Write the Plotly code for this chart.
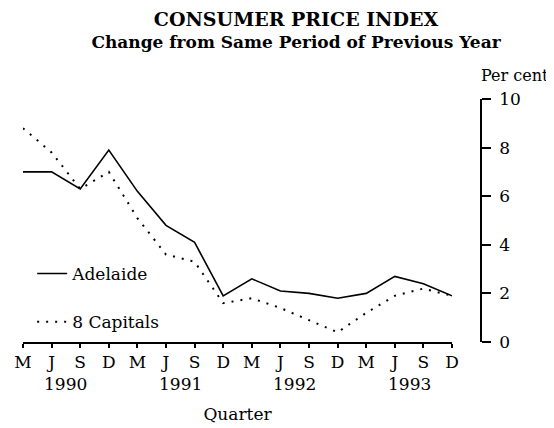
import plotly.graph_objects as go

quarters = ["M", "J", "S", "D"] * 4
years = ["1990", "1991", "1992", "1993"]
adelaide = [7.0, 7.0, 6.3, 7.9, 6.2, 4.8, 4.1, 1.9, 2.6, 2.1, 2.0, 1.8, 2.0, 2.7, 2.4, 1.9]
capitals = [8.8, 7.8, 6.3, 7.0, 5.1, 3.6, 3.3, 1.6, 1.8, 1.4, 0.9, 0.4, 1.2, 1.9, 2.2, 1.9]
y_ticks = [0, 2, 4, 6, 8, 10]

FONT = "DejaVu Serif"
idx = list(range(len(quarters)))

# page body has an 8px default margin, so the figure is sized/positioned to compensate
W, H = 546, 420

fig = go.Figure()
fig.add_trace(go.Scatter(x=idx, y=adelaide, mode="lines", name="Adelaide",
                         legendgroup="a",
                         line=dict(color="black", width=1.6)))
fig.add_trace(go.Scatter(x=idx, y=capitals, mode="lines", name="8 Capitals",
                         legendgroup="b",
                         line=dict(color="black", width=2, dash="2px,7px")))

annotations = []
for i, yr in enumerate(years):
    annotations.append(dict(x=i * 4 + 1.5, y=0, xref="x", yref="paper",
                            text=yr, showarrow=False, yanchor="middle",
                            yshift=-42, font=dict(family=FONT, size=17, color="black")))
annotations.append(dict(x=1.152, y=1.0, xref="paper", yref="paper", text="Per cent",
                        showarrow=False, xanchor="right", yanchor="middle",
                        xshift=0, yshift=24, font=dict(family=FONT, size=16, color="black")))

fig.update_layout(
    width=W, height=H,
    margin=dict(l=15, r=73, t=91, b=86),
    paper_bgcolor="white", plot_bgcolor="white",
    title=dict(text="<b><span style='font-size:19px'>CONSUMER PRICE INDEX</span></b><br>"
                    "<b>Change from Same Period of Previous Year</b>",
               x=288 / W, xref="container", xanchor="center",
               y=1 - 18 / H, yref="container", yanchor="middle",
               font=dict(family=FONT, size=17, color="black")),
    showlegend=True,
    legend=dict(x=0.02, y=0.354, xanchor="left", yanchor="top",
                traceorder="grouped", tracegroupgap=23,
                bgcolor="rgba(0,0,0,0)",
                font=dict(family=FONT, size=17, color="black")),
    xaxis=dict(domain=[0, 0.9367], range=[0, 15], automargin=False,
               tickmode="array", tickvals=idx, ticktext=quarters,
               showline=True, linecolor="black", linewidth=1.5,
               ticks="outside", ticklen=4, tickwidth=1.5, tickcolor="black",
               ticklabelstandoff=0,
               showgrid=False, zeroline=False,
               tickfont=dict(family=FONT, size=17, color="black"),
               title=dict(text="Quarter", standoff=37,
                          font=dict(family=FONT, size=17, color="black"))),
    yaxis=dict(range=[0, 10], side="right", anchor="free", position=1.0,
               automargin=False,
               tickmode="array", tickvals=y_ticks,
               showline=True, linecolor="black", linewidth=1.5,
               ticks="outside", ticklen=9, tickwidth=1.5, tickcolor="black",
               ticklabelstandoff=5,
               showgrid=False, zeroline=False,
               tickfont=dict(family=FONT, size=17, color="black")),
    annotations=annotations,
)

fig.write_html("out.html")
